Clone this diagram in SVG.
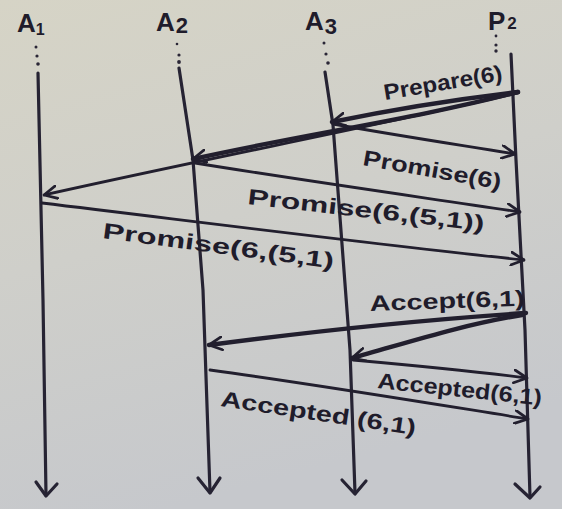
<svg xmlns="http://www.w3.org/2000/svg" width="562" height="509" viewBox="0 0 562 509">
<defs>
<linearGradient id="bg" x1="0" y1="0" x2="0.3" y2="1">
<stop offset="0" stop-color="#d6d4c6"/>
<stop offset="0.5" stop-color="#cfcfca"/>
<stop offset="1" stop-color="#c6c8cc"/>
</linearGradient>
<marker id="ah" viewBox="0 0 14 14" refX="13" refY="7" markerWidth="15" markerHeight="15" markerUnits="userSpaceOnUse" orient="auto">
<path d="M1,1 L13,7 L1,13" fill="none" stroke="#221f2e" stroke-width="2.6" stroke-linecap="round" stroke-linejoin="round"/>
</marker>
<style>
.life{fill:none;stroke:#262333;stroke-width:3.2;stroke-linecap:round;stroke-linejoin:round}
.dot{fill:#2a2636}
.lbl{font-family:"Liberation Sans",Arial,sans-serif;font-weight:bold;fill:#1f1c2b}
.head{font-size:26px}
.msg{fill:none;stroke:#221f2e;stroke-width:2.8;stroke-linecap:round;marker-end:url(#ah)}
.thick{stroke-width:4.4}
.ml{font-size:22px}
</style>
</defs>
<rect width="562" height="509" fill="url(#bg)"/>

<g id="A1">
<text class="lbl head" x="17" y="32">A<tspan font-size="16" dy="3">1</tspan></text>
<circle class="dot" cx="36" cy="47" r="1.5"/><circle class="dot" cx="37" cy="56" r="1.6"/><circle class="dot" cx="38" cy="64" r="1.8"/>
<polyline class="life" points="38,73 43,300 46,495"/>
<path class="life" d="M36,482 L46,496 L57,484"/>
</g>

<g id="A2">
<text class="lbl head" x="156" y="31">A<tspan font-size="22" dx="1" dy="2">2</tspan></text>
<circle class="dot" cx="177" cy="44" r="1.3"/><circle class="dot" cx="179" cy="55" r="1.6"/><circle class="dot" cx="179" cy="62" r="1.9"/>
<polyline class="life" points="179,68 193,160 203,290 210,492"/>
<path class="life" d="M198,478 L210,493 L220,478"/>
</g>

<g id="A3">
<text class="lbl head" x="305" y="30">A<tspan font-size="22" dx="1" dy="4">3</tspan></text>
<circle class="dot" cx="324" cy="43" r="1.5"/><circle class="dot" cx="326" cy="54" r="1.6"/><circle class="dot" cx="328" cy="63" r="1.8"/>
<polyline class="life" points="325,72 333,125 350,350 355,493"/>
<path class="life" d="M342,480 L355,494 L366,481"/>
</g>

<g id="P2">
<text class="lbl head" x="488" y="30">P<tspan font-size="17" dx="2" dy="-1">2</tspan></text>
<circle class="dot" cx="496" cy="36" r="1.4"/><circle class="dot" cx="496" cy="45" r="1.6"/><circle class="dot" cx="496" cy="51" r="1.7"/>
<polyline class="life" points="511,54 516,160 525,330 530,497"/>
<path class="life" d="M515,484 L530,498 L540,487"/>
</g>

<g id="connectors">
<path class="msg thick" d="M518,92 C450,100 380,112 332,122"/>
<path class="msg thick" d="M518,92 C420,118 300,135 193,159"/>
<path class="msg" d="M518,93 C380,125 200,160 44,195"/>
<path class="msg" d="M333,124 C400,136 460,145 515,154"/>
<path class="msg" d="M195,163 C300,180 420,197 520,212"/>
<path class="msg" d="M42,203 C200,222 380,245 524,260"/>
<path class="msg thick" d="M526,313 C420,320 300,333 209,345"/>
<path class="msg thick" d="M522,315 C460,325 400,345 352,358"/>
<path class="msg" d="M353,360 C420,366 480,372 527,378"/>
<path class="msg" d="M210,370 C320,385 440,405 528,419"/>
</g>

<g id="labels">
<text class="lbl ml" transform="translate(385,100) rotate(-9.5)" textLength="120" lengthAdjust="spacingAndGlyphs">Prepare(6)</text>
<text class="lbl ml" transform="translate(362,165) rotate(10)" textLength="140" lengthAdjust="spacingAndGlyphs">Promise(6)</text>
<text class="lbl ml" transform="translate(247,204) rotate(6.5)" textLength="238" lengthAdjust="spacingAndGlyphs">Promise(6,(5,1))</text>
<text class="lbl ml" transform="translate(102,238) rotate(7.5)" textLength="233" lengthAdjust="spacingAndGlyphs">Promise(6,(5,1)</text>
<text class="lbl ml" transform="translate(370,311) rotate(-2)" textLength="155" lengthAdjust="spacingAndGlyphs">Accept(6,1)</text>
<text class="lbl ml" transform="translate(377,388) rotate(6)" textLength="165" lengthAdjust="spacingAndGlyphs">Accepted(6,1)</text>
<text class="lbl ml" transform="translate(220,406) rotate(8.5)" textLength="197" lengthAdjust="spacingAndGlyphs">Accepted (6,1)</text>
</g>
</svg>
